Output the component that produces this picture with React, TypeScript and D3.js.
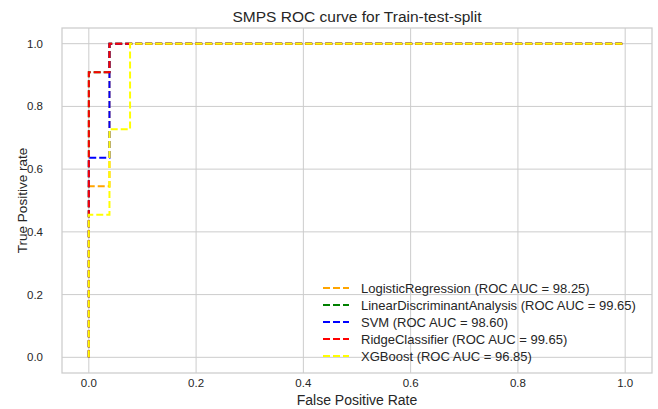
import React from "react";
import * as d3 from "d3";

const W = 658;
const H = 409;

const title = "SMPS ROC curve for Train-test-split";
const xLabel = "False Positive Rate";
const yLabel = "True Positive rate";
const xTicks = [0, 0.2, 0.4, 0.6, 0.8, 1.0];
const yTicks = [0, 0.2, 0.4, 0.6, 0.8, 1.0];

const modelNames = ["LogisticRegression", "LinearDiscriminantAnalysis", "SVM", "RidgeClassifier", "XGBoost"];
const modelAUC = ["98.25", "99.65", "98.60", "99.65", "96.85"];
const modelColors = ["#ffa500", "#008000", "#0000ff", "#ff0000", "#ffff00"];

const fprLR = [0, 0, 0.0385, 0.0385, 1];
const tprLR = [0, 0.5455, 0.5455, 1, 1];
const fprLDA = [0, 0, 0.0385, 0.0385, 1];
const tprLDA = [0, 0.9091, 0.9091, 1, 1];
const fprSVM = [0, 0, 0.0385, 0.0385, 1];
const tprSVM = [0, 0.6364, 0.6364, 1, 1];
const fprRidge = [0, 0, 0.0385, 0.0385, 1];
const tprRidge = [0, 0.9091, 0.9091, 1, 1];
const fprXGB = [0, 0, 0.0385, 0.0385, 0.0769, 0.0769, 1];
const tprXGB = [0, 0.4545, 0.4545, 0.7273, 0.7273, 1, 1];

const curves = [
  [fprLR, tprLR],
  [fprLDA, tprLDA],
  [fprSVM, tprSVM],
  [fprRidge, tprRidge],
  [fprXGB, tprXGB],
];

const M = { left: 62, right: 652, top: 28, bottom: 373 };
const FONT = "'Liberation Sans', Arial, sans-serif";
const TEXT = "#262626";
const GRID = "#cccccc";
const DASH = "7,3";

export default function App() {
  const x = d3.scaleLinear().domain([-0.05, 1.05]).range([M.left, M.right]);
  const y = d3.scaleLinear().domain([-0.05, 1.05]).range([M.bottom, M.top]);
  const line = d3
    .line<[number, number]>()
    .x((d) => x(d[0]))
    .y((d) => y(d[1]));

  const legX = 323;
  const legY0 = 288;
  const legStep = 17;

  return (
    <svg
      width={W}
      height={H}
      style={{ position: "fixed", left: 0, top: 0, background: "#fff" }}
      fontFamily={FONT}
    >
      <rect x={0} y={0} width={W} height={H} fill="#fff" />
      {xTicks.map((t) => (
        <line key={"gx" + t} x1={x(t)} x2={x(t)} y1={M.top} y2={M.bottom} stroke={GRID} strokeWidth={1} />
      ))}
      {yTicks.map((t) => (
        <line key={"gy" + t} x1={M.left} x2={M.right} y1={y(t)} y2={y(t)} stroke={GRID} strokeWidth={1} />
      ))}
      <rect
        x={M.left}
        y={M.top}
        width={M.right - M.left}
        height={M.bottom - M.top}
        fill="none"
        stroke={GRID}
        strokeWidth={1.25}
      />
      {curves.map((c, i) => (
        <path
          key={"c" + i}
          d={line(c[0].map((v, j) => [v, c[1][j]] as [number, number])) || ""}
          fill="none"
          stroke={modelColors[i]}
          strokeWidth={2}
          strokeDasharray={DASH}
        />
      ))}
      {xTicks.map((t) => (
        <text key={"tx" + t} x={x(t)} y={M.bottom + 14} textAnchor="middle" fontSize={11.5} fill={TEXT}>
          {t.toFixed(1)}
        </text>
      ))}
      {yTicks.map((t) => (
        <text key={"ty" + t} x={M.left - 19} y={y(t) + 4} textAnchor="end" fontSize={11.5} fill={TEXT}>
          {t.toFixed(1)}
        </text>
      ))}
      <text x={(M.left + M.right) / 2} y={22} textAnchor="middle" fontSize={15.5} fill={TEXT}>
        {title}
      </text>
      <text x={(M.left + M.right) / 2} y={405} textAnchor="middle" fontSize={14} fill={TEXT}>
        {xLabel}
      </text>
      <text
        transform={`translate(27, ${(M.top + M.bottom) / 2}) rotate(-90)`}
        textAnchor="middle"
        fontSize={13.5}
        fill={TEXT}
      >
        {yLabel}
      </text>
      {modelNames.map((n, i) => (
        <g key={"l" + i} transform={`translate(${legX}, ${legY0 + i * legStep})`}>
          <line x1={0} x2={26} y1={0} y2={0} stroke={modelColors[i]} strokeWidth={2} strokeDasharray={DASH} />
          <text x={38} y={4.5} fontSize={13} fill={TEXT}>
            {`${n} (ROC AUC = ${modelAUC[i]})`}
          </text>
        </g>
      ))}
    </svg>
  );
}
